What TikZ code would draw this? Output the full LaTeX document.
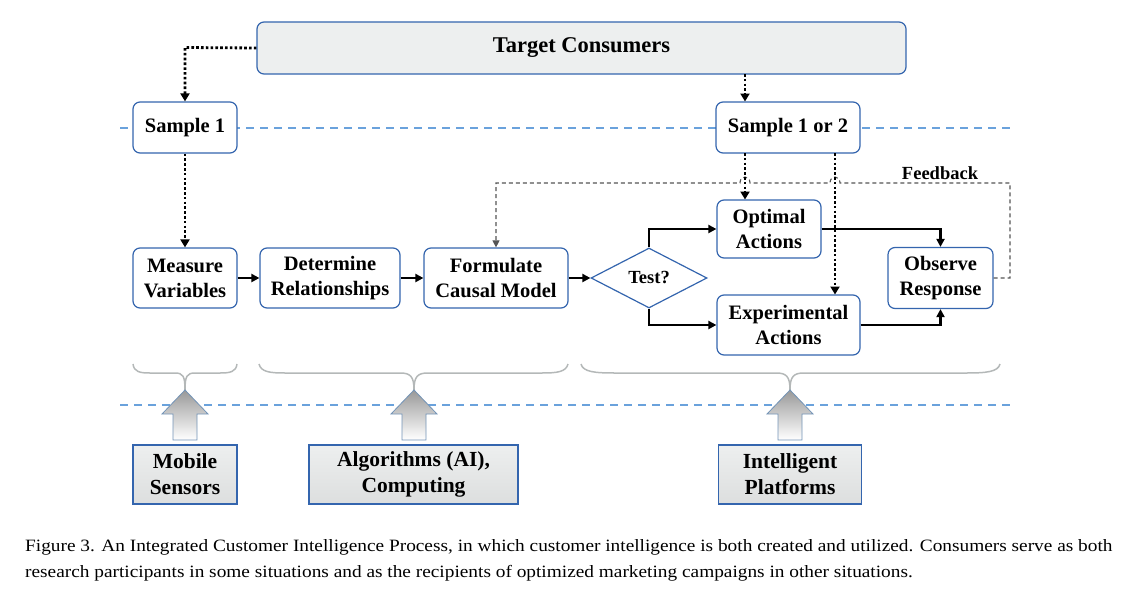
\documentclass[tikz,border=0pt]{standalone}
\usepackage{fontspec}
\setmainfont{Liberation Serif}
\newfontfamily\capfont[FakeStretch=1.117]{Liberation Serif}
\usetikzlibrary{arrows.meta,shapes.geometric}
\definecolor{boxblue}{HTML}{3465AE}
\definecolor{lineblue}{HTML}{6AA2DC}
\definecolor{tgfill}{HTML}{EDEFEF}
\definecolor{fbgray}{HTML}{555555}
\definecolor{bracegray}{HTML}{B4B8B8}
\begin{document}
\begin{tikzpicture}[x=1pt,y=-1pt,
  rbox/.style={draw=boxblue, line width=1.2pt, rounded corners=7pt, fill=white, align=center,
    inner sep=0pt, font=\bfseries\fontsize{20.5}{25}\selectfont},
  sbox/.style={draw=boxblue, line width=1.5pt, top color=tgfill, bottom color=tgfill!85!gray, align=center,
    inner sep=0pt, minimum height=59pt, font=\bfseries\fontsize{21.5}{26}\selectfont},
  flow/.style={line width=2.3pt, -{Triangle[length=8pt,width=8pt]}},
  dots/.style={line width=2.8pt, dash pattern=on 2.6pt off 2.2pt, -{Triangle[length=8pt,width=9pt]}},
  fb/.style={line width=1.1pt, draw=fbgray, dash pattern=on 4pt off 3pt},
  sep/.style={line width=1.2pt, draw=lineblue, dash pattern=on 8pt off 6pt},
  brc/.style={line width=1.5pt, draw=bracegray},
  fat/.style={draw=lineblue!60!gray, line width=0.8pt, top color=gray!80, bottom color=white}
]
\useasboundingbox (0,0) rectangle (1137,602);

% separator lines
\draw[sep] (120,128) -- (1015,128);
\draw[sep] (120,405) -- (1015,405);

% nodes
\node[rbox, minimum width=649pt, minimum height=52pt, fill=tgfill, font=\bfseries\fontsize{22.5}{26}\selectfont] (tc) at (581.5,48) {Target Consumers};
\node[rbox, minimum width=104pt, minimum height=51pt] (s1) at (185,127.5) {Sample 1};
\node[rbox, minimum width=144pt, minimum height=51pt] (s12) at (788,127.5) {Sample 1 or 2};
\node[rbox, minimum width=104pt, minimum height=60pt] (mv) at (185,278) {Measure\\Variables};
\node[rbox, minimum width=140pt, minimum height=60pt] (dr) at (330,278) {Determine\\Relationships};
\node[rbox, minimum width=144pt, minimum height=60pt] (fc) at (496,278) {Formulate\\Causal Model};
\node[diamond, draw=boxblue, line width=1.2pt, fill=white, inner sep=0pt, minimum width=116pt, minimum height=60pt,
  font=\bfseries\fontsize{18.5}{20}\selectfont] (test) at (649,278) {Test?};
\node[rbox, minimum width=104pt, minimum height=58pt] (opt) at (769,229) {Optimal\\Actions};
\node[rbox, minimum width=143pt, minimum height=60pt] (exp) at (788.5,325) {Experimental\\Actions};
\node[rbox, minimum width=105pt, minimum height=61pt] (obs) at (940.5,278) {Observe\\Response};

% main flow arrows
\draw[flow] (mv.east) -- (dr.west);
\draw[flow] (dr.east) -- (fc.west);
\draw[flow] (fc.east) -- (test.west);
\draw[flow] (test.north) |- (opt.west);
\draw[flow] (test.south) |- (exp.west);
\draw[flow] (opt.east) -| (obs.north);
\draw[flow] (exp.east) -| (obs.south);

% feedback loop
\draw[fb, -{Triangle[length=7pt,width=7pt]}] (obs.east) -- (1010,278) -- (1010,183) -- (840,183)
  .. controls (840,175) and (830,175) .. (830,183) -- (750,183)
  .. controls (750,175) and (740,175) .. (740,183) -- (496,183) -- (fc.north);
\node[font=\bfseries\fontsize{18.5}{20}\selectfont] (fbl) at (940,173) {Feedback};

% dotted sampling arrows
\draw[dots] (tc.west) -- (185,47.5) -- (s1.north);
\draw[dots] (745,74) -- (745,101.5);
\draw[dots] (s1.south) -- (mv.north);
\draw[dots] (745,153) -- (745,199.5);
\draw[dots] (835,153) -- (835,294.5);

% braces
\draw[brc] (133,364) .. controls (134,372) and (140,373) .. (150,373) -- (175,373)
  .. controls (183,373) and (185,376) .. (185,390);
\draw[brc] (237,364) .. controls (236,372) and (230,373) .. (220,373) -- (195,373)
  .. controls (187,373) and (185,376) .. (185,390);
\draw[brc] (259,364) .. controls (261,372) and (270,373) .. (285,373) -- (400,373)
  .. controls (410,373) and (414,376) .. (414,390);
\draw[brc] (568,364) .. controls (566,372) and (557,373) .. (542,373) -- (428,373)
  .. controls (418,373) and (414,376) .. (414,390);
\draw[brc] (581,364) .. controls (583,372) and (595,373) .. (615,373) -- (776,373)
  .. controls (786,373) and (790,376) .. (790,390);
\draw[brc] (1000,364) .. controls (998,372) and (986,373) .. (966,373) -- (804,373)
  .. controls (794,373) and (790,376) .. (790,390);

% fat arrows
\foreach \cx in {185,414,790}{
  \path[fat] (\cx,390) -- (\cx+23,414) -- (\cx+12,414) -- (\cx+12,440) -- (\cx-12,440) -- (\cx-12,414) -- (\cx-23,414) -- cycle;
}

% bottom boxes
\node[sbox, minimum width=104pt] (ms) at (185,474.5) {Mobile\\Sensors};
\node[sbox, minimum width=209pt] (alg) at (413.5,474.5) {Algorithms (AI),\\Computing};
\node[sbox, minimum width=143pt] (ip) at (790,474.5) {Intelligent\\Platforms};

% caption
\node[anchor=base west, inner sep=0pt, font=\capfont\fontsize{17.3}{20}\selectfont] (cap1) at (25,551)
  {Figure 3. An Integrated Customer Intelligence Process, in which customer intelligence is both created and utilized. Consumers serve as both};
\node[anchor=base west, inner sep=0pt, font=\capfont\fontsize{17.3}{20}\selectfont] (cap2) at (25,577)
  {research participants in some situations and as the recipients of optimized marketing campaigns in other situations.};
\end{tikzpicture}
\end{document}
